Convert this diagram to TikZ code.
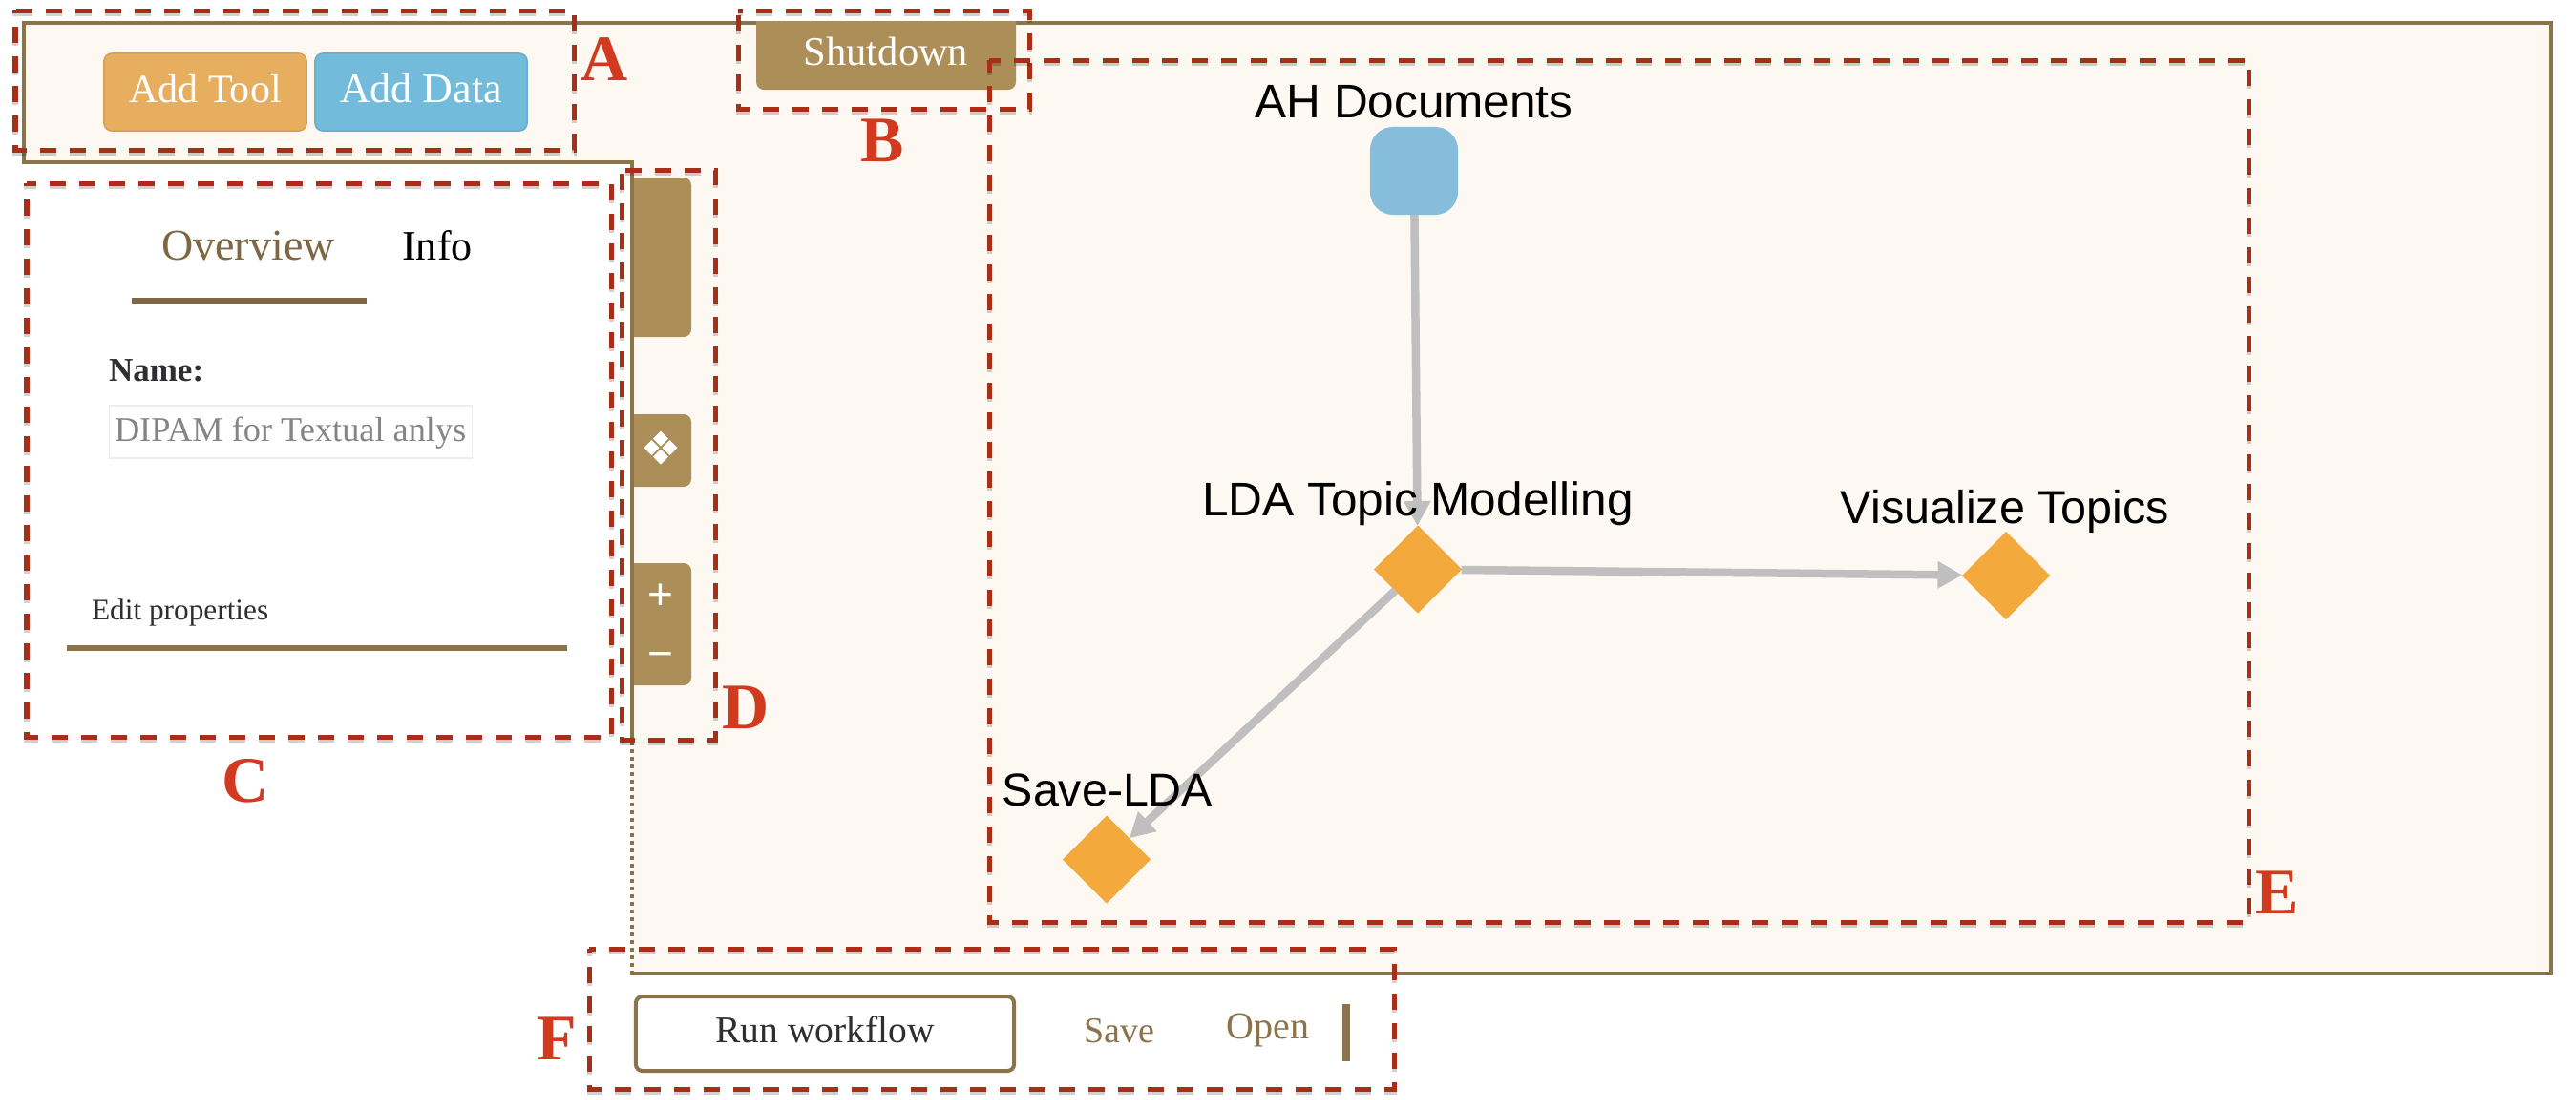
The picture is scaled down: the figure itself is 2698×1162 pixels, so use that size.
\documentclass[tikz,border=0pt]{standalone}
\usepackage{fontspec}
\setmainfont{Liberation Serif}
\newfontfamily\hvfont{Liberation Sans}
\usetikzlibrary{shapes.geometric,arrows.meta}
\newdimen\pxu \pxu=0.28453pt
\newcommand\fpx[1]{\fontsize{\the\dimexpr#1\pxu\relax}{\the\dimexpr#1\pxu\relax}\selectfont}
\definecolor{cream}{HTML}{FDF9F2}
\definecolor{framec}{HTML}{8B734A}
\definecolor{tabc}{HTML}{AC8F58}
\definecolor{toolc}{HTML}{E8AE5F}
\definecolor{datac}{HTML}{73BBDB}
\definecolor{dashred}{HTML}{A92E18}
\definecolor{letterc}{HTML}{D13A1E}
\definecolor{ovc}{HTML}{7D6843}
\definecolor{inkc}{HTML}{2F2F33}
\definecolor{blobc}{HTML}{85BDDA}
\definecolor{diac}{HTML}{F3A93C}
\definecolor{edgec}{HTML}{BFBFBF}
\tikzset{
  framel/.style={draw=framec,line width=4\pxu},
  dashbox/.style={draw=dashred,line width=5\pxu},
  dashshade/.style={draw=black,opacity=.18,line width=5\pxu,yshift=-3\pxu},
  btn/.style={rounded corners=8\pxu,inner sep=0pt,outer sep=0pt,text=white,align=center},
  txt/.style={inner sep=0pt,outer sep=0pt},
  letter/.style={txt,anchor=base,text=letterc,font=\fpx{68}\bfseries},
  lab/.style={txt,anchor=base,text=black},
  dia/.style={shape=diamond,aspect=1,fill=diac,inner sep=0pt,outer sep=0pt,minimum width=92\pxu,minimum height=92\pxu},
  minidia/.style={shape=diamond,aspect=1,fill=white,inner sep=0pt,outer sep=0pt,minimum width=16\pxu,minimum height=16\pxu},
  conn/.style={draw=edgec,line width=8.5\pxu,-{Triangle[length=7.4pt,width=7.68pt]}}
}
\newcommand\dbox[5]{%
  \draw[dashshade,dash pattern=on 17\pxu off 14\pxu,dash phase=#5\pxu] (#1,#2) -- (#3,#2) -- (#3,#4) -- (#1,#4) -- cycle;
  \draw[dashbox,dash pattern=on 17\pxu off 14\pxu,dash phase=#5\pxu] (#1,#2) -- (#3,#2) -- (#3,#4) -- (#1,#4) -- cycle;}
\begin{document}
\begin{tikzpicture}[x=0.01cm,y=-0.01cm]
\useasboundingbox (0,0) rectangle (2698,1162);
\fill[white] (0,0) rectangle (2698,1162);
% workspace frame
\fill[cream] (25,24) -- (2672,24) -- (2672,1020) -- (662,1020) -- (662,170) -- (25,170) -- cycle;
\draw[framel] (662,777) -- (662,170) -- (25,170) -- (25,24) -- (2672,24) -- (2672,1020) -- (660,1020);
\draw[draw=framec,line width=4\pxu,dash pattern=on 4\pxu off 4\pxu] (662,777) -- (662,1018);
% A
\node[btn,fill=toolc,draw=toolc!92!black,line width=1.5\pxu,minimum width=212\pxu,minimum height=81\pxu,text height=30\pxu,text depth=9\pxu,font=\fpx{42}] (addtool) at (215,96.5) {Add Tool};
\node[btn,fill=datac,draw=datac!92!black,line width=1.5\pxu,minimum width=222\pxu,minimum height=81\pxu,text height=30\pxu,text depth=9\pxu,font=\fpx{44}] (adddata) at (441,96.5) {Add Data};
% B
\fill[tabc,rounded corners=8\pxu] (792,22) -- (792,94) -- (1064,94) -- (1064,22);
\fill[tabc] (792,22) rectangle (1064,40);
\node[lab,text=white,font=\fpx{42.5}] (shutdown) at (928,68) {Shutdown};
% C
\node[lab,text=ovc,font=\fpx{46}] (overview) at (260,272) {Overview};
\node[lab,font=\fpx{44}] (info) at (458,272) {Info};
\fill[ovc] (138,312) rectangle (384,318);
\node[lab,anchor=base west,text=inkc,font=\fpx{35}\bfseries] (namelab) at (114,399) {Name:};
\node[txt,draw=black!7,line width=1.2\pxu,minimum width=379\pxu,minimum height=55\pxu] (namebox) at (304.5,452.5) {};
\node[lab,anchor=base west,text=black!48,font=\fpx{36.3}] (nametext) at (120,462) {DIPAM for Textual anlys};
\node[lab,anchor=base west,text=inkc,font=\fpx{31.3}] (edit) at (96,649) {Edit properties};
\fill[framec] (70,676) rectangle (594,682);
% D
\fill[tabc,rounded corners=8\pxu] (664,186) -- (724,186) -- (724,353) -- (664,353);
\fill[tabc,rounded corners=8\pxu] (664,434) -- (724,434) -- (724,510) -- (664,510);
\fill[tabc,rounded corners=8\pxu] (664,590) -- (724,590) -- (724,718) -- (664,718);
\node[minidia] (d1) at (692,459.5) {};
\node[minidia] (d2) at (692,478.5) {};
\node[minidia] (d3) at (682.5,469) {};
\node[minidia] (d4) at (701.5,469) {};
\node[txt,text=white,font=\hvfont\fpx{46}] (plus) at (692,625) {+};
\node[txt,text=white,font=\hvfont\fpx{46}] (minus) at (692,692) {−};
% E shapes
\node[shape=rectangle,rounded corners=24\pxu,fill=blobc,inner sep=0pt,outer sep=0pt,minimum width=92\pxu,minimum height=92\pxu] (ah) at (1481,179) {};
\node[dia] (lda) at (1485,596.5) {};
\node[dia] (viz) at (2101,603) {};
\node[dia] (save) at (1159,900.5) {};
\draw[conn] (ah) -- (lda);
\draw[conn] (lda) -- (viz);
\draw[conn] (lda) -- (save);
\node[lab,font=\hvfont\fpx{49.5}] (ahlab) at (1481,123) {AH Documents};
\node[lab,font=\hvfont\fpx{49.5}] (ldalab) at (1485,540) {LDA Topic Modelling};
\node[lab,font=\hvfont\fpx{48.5}] (vizlab) at (2100,548) {Visualize Topics};
\node[lab,font=\hvfont\fpx{48.3}] (savelab) at (1160,844) {Save-LDA};
% F
\node[txt,draw=framec,line width=4\pxu,rounded corners=7\pxu,minimum width=396\pxu,minimum height=78\pxu] (runbox) at (864,1083) {};
\node[lab,text=inkc,font=\fpx{39.5}] (run) at (864,1092) {Run workflow};
\node[lab,text=framec,font=\fpx{38}] (savebtn) at (1172,1092) {Save};
\node[lab,text=framec,font=\fpx{40}] (openbtn) at (1328,1088) {Open};
\fill[framec] (1406,1052) rectangle (1414,1112);
% dashed boxes
\dbox{16}{11}{601}{157}{30}
\dbox{773}{11}{1078}{114}{12}
\dbox{28}{192}{640}{772}{7}
\dbox{651}{178}{749}{775}{27}
\dbox{1036}{63}{2355}{966}{5}
\dbox{617}{994}{1460}{1141}{10}
% letters
\node[letter] (la) at (633,84) {A};
\node[letter] (lb) at (924,169) {B};
\node[letter] (lc) at (257,840) {C};
\node[letter] (ld) at (781,763) {D};
\node[letter] (le) at (2385,957) {E};
\node[letter] (lf) at (583,1110) {F};
\end{tikzpicture}
\end{document}
